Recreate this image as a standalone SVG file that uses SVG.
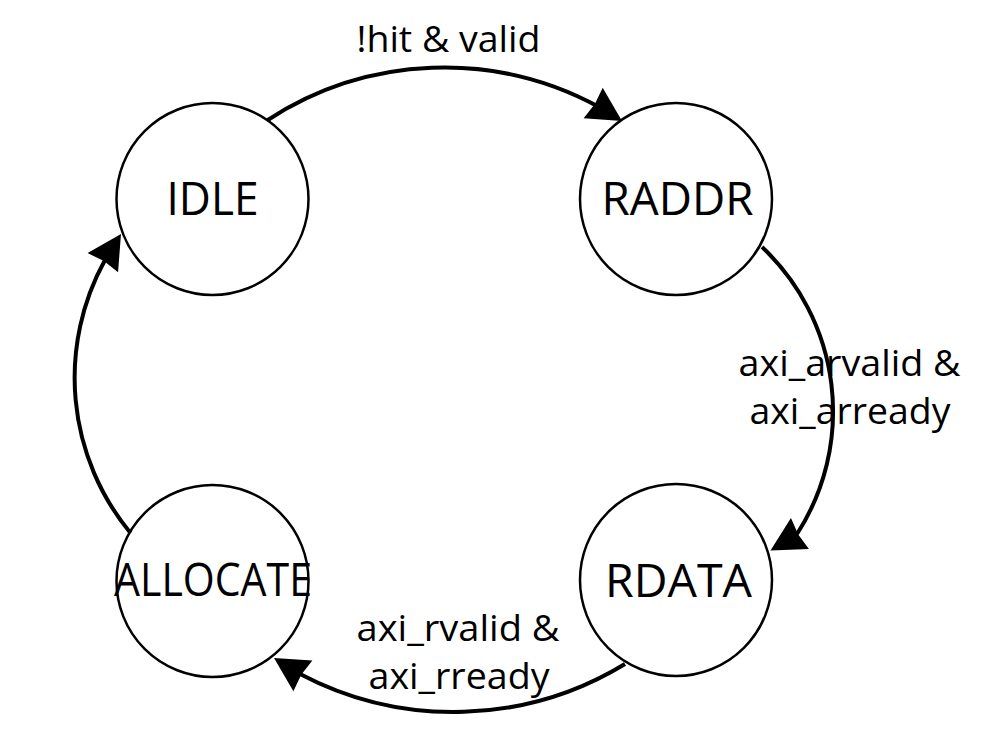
<svg xmlns="http://www.w3.org/2000/svg" xmlns:xlink="http://www.w3.org/1999/xlink" width="990" height="737" viewBox="0 0 990 737">
  <style>
    .state { fill: #ffffff; stroke: #000000; stroke-width: 2.5; }
    .state-label { font-family: "Open Sans", "Noto Sans", "Liberation Sans", sans-serif; font-size: 45px; fill: #000000; text-anchor: middle; }
    .edge-label { font-family: "Open Sans", "Noto Sans", "Liberation Sans", sans-serif; font-size: 36px; fill: #000000; text-anchor: middle; }
    .edge { fill: none; stroke: #000000; stroke-width: 4; }
    .head { fill: #000000; stroke: none; }
  </style>
  <defs>
    <path id="arrowhead" class="head" d="M0,0 L-34,-18 L-32,0 L-34,18 Z"/>
  </defs>
  <rect x="0" y="0" width="990" height="737" fill="#ffffff"/>

  <g id="node-idle">
    <circle class="state" cx="212.5" cy="199" r="96"/>
    <text class="state-label" x="212.5" y="215" textLength="92" lengthAdjust="spacingAndGlyphs">IDLE</text>
  </g>
  <g id="node-raddr">
    <circle class="state" cx="676" cy="199" r="96"/>
    <text class="state-label" x="677.5" y="215" textLength="152" lengthAdjust="spacingAndGlyphs">RADDR</text>
  </g>
  <g id="node-rdata">
    <circle class="state" cx="676" cy="580" r="96"/>
    <text class="state-label" x="678.5" y="597" textLength="147" lengthAdjust="spacingAndGlyphs">RDATA</text>
  </g>
  <g id="node-allocate">
    <circle class="state" cx="212.5" cy="581" r="96"/>
    <text class="state-label" x="213" y="596" textLength="198" lengthAdjust="spacingAndGlyphs">ALLOCATE</text>
  </g>

  <g id="edge-labels">
    <text class="edge-label" x="448.5" y="52" textLength="184" lengthAdjust="spacingAndGlyphs">!hit &amp; valid</text>
    <text class="edge-label" x="849.5" y="376" textLength="222" lengthAdjust="spacingAndGlyphs">axi_arvalid &amp;</text>
    <text class="edge-label" x="850" y="424" textLength="201" lengthAdjust="spacingAndGlyphs">axi_arready</text>
    <text class="edge-label" x="458" y="641" textLength="203" lengthAdjust="spacingAndGlyphs">axi_rvalid &amp;</text>
    <text class="edge-label" x="459" y="689" textLength="181" lengthAdjust="spacingAndGlyphs">axi_rready</text>
  </g>

  <g id="connectors">
    <path class="edge" d="M 267 120.5 A 323.7 323.7 0 0 1 600 107.5"/>
    <use xlink:href="#arrowhead" transform="translate(622 121) rotate(32)"/>
    <path class="edge" d="M 762 247 A 226 226 0 0 1 797 534"/>
    <use xlink:href="#arrowhead" transform="translate(770.5 550.5) rotate(150)"/>
    <path class="edge" d="M 625 664 A 329.7 329.7 0 0 1 300 674"/>
    <use xlink:href="#arrowhead" transform="translate(274 658) rotate(211.8)"/>
    <path class="edge" d="M 130.5 533 A 243.6 243.6 0 0 1 105 260"/>
    <use xlink:href="#arrowhead" transform="translate(121 234) rotate(-57.7)"/>
  </g>
</svg>
